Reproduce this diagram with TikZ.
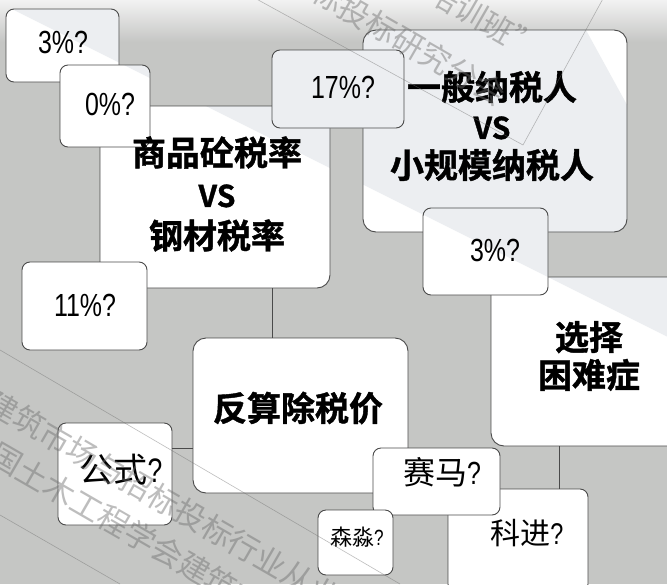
\documentclass[tikz,border=0pt]{standalone}
\usepackage{fontspec}
\usetikzlibrary{calc}
\newfontfamily\cjk{Noto Sans CJK SC}
\newfontfamily\cjkbold[FakeBold=1.2]{Noto Sans CJK SC Bold}
\newfontfamily\narrow[FakeStretch=0.78]{Liberation Sans}
\definecolor{bggray}{HTML}{C5C6C4}
\definecolor{bandclr}{HTML}{ECEEF1}
\definecolor{edgeclr}{HTML}{4A4A4A}
\definecolor{wmclr}{HTML}{6E6E6E}
\newcommand\vs{{\fontsize{30}{41}\selectfont VS}}
\begin{document}
\begin{tikzpicture}[x=1pt,y=-1pt,
    box/.style={draw=edgeclr,line width=.9pt,fill=white,rounded corners=8pt,inner sep=0pt,
        path picture={\fill[bandclr,sharp corners](bandA)--(bandB)--(bandC)--(bandD)--(bandE)--cycle;}},
    bigbox/.style={box,rounded corners=13pt},
    link/.style={edgeclr,line width=.9pt},
    bigtxt/.style={align=center,inner sep=0pt},
    tagtxt/.style={font=\narrow\fontsize{32}{36}\selectfont,inner sep=0pt},
    cjktxt/.style={inner sep=0pt},
    wm/.style={wmclr,font=\cjk\fontsize{31}{31}\selectfont,rotate=-30,anchor=west,inner sep=0pt}]
\useasboundingbox (0,0) rectangle (667,584);
\clip (0,0) rectangle (667,584);
% background
\fill[bggray] (0,0) rectangle (667,584);
\shade[top color=black!5,bottom color=bggray] (0,0) rectangle (667,42);
\coordinate (bandA) at (-10,-10);
\coordinate (bandB) at (-10,-2);
\coordinate (bandC) at (700,353);
\coordinate (bandD) at (700,238);
\coordinate (bandE) at (564,-10);

% big boxes
\node[bigbox,minimum width=230pt,minimum height=182pt] (shang) at (215,197) {};
\node[bigbox,minimum width=264pt,minimum height=202pt] (yiban) at (495,131) {};
\node[bigbox,minimum width=215pt,minimum height=155pt] (fan) at (300.5,415.5) {};
\node[bigbox,minimum width=209pt,minimum height=169pt] (xuan) at (595.5,361.5) {};
\node[box,minimum width=140pt,minimum height=103pt] (kejin) at (518,540.5) {};

% small boxes
\node[box,minimum width=113pt,minimum height=73pt] (pctA) at (62.5,45.5) {};
\node[box,minimum width=90pt,minimum height=82pt] (pctB) at (105,106) {};
\node[box,minimum width=132pt,minimum height=78pt] (pctC) at (338,89) {};
\node[box,minimum width=125pt,minimum height=87pt] (pctD) at (485.5,251.5) {};
\node[box,minimum width=125pt,minimum height=88pt] (pctE) at (84.5,306) {};
\node[box,minimum width=114pt,minimum height=102pt] (gongshi) at (115,474) {};
\node[box,minimum width=127pt,minimum height=67pt] (saima) at (436.5,481.5) {};
\node[box,minimum width=75pt,minimum height=65pt] (senmiao) at (355.5,542.5) {};

% links
\draw[link] ($(shang.south)!.5!(shang.south east)$) coordinate (s1) -- (s1 |- fan.north);
\draw[link] ([yshift=26pt]gongshi.east) coordinate (g1) -- (g1 -| fan.west);
\draw[link] ([xshift=-29pt]kejin.north east) coordinate (k1) -- (k1 |- xuan.south);

% texts
\node[bigtxt,font=\cjkbold\fontsize{34}{41.5}\selectfont] (shangtxt) at (217,194) {商品砼税率\\\vs\\钢材税率};
\node[bigtxt,font=\cjkbold\fontsize{34}{39}\selectfont] (yibantxt) at (492,126) {一般纳税人\\\vs\\小规模纳税人};
\node[bigtxt,font=\cjkbold\fontsize{34}{38}\selectfont] (fantxt) at (298,408) {反算除税价};
\node[bigtxt,font=\cjkbold\fontsize{34}{38}\selectfont] (xuantxt) at (589,356) {选择\\困难症};
\node[tagtxt] (pctAtxt) at (63,42) {3\%?};
\node[tagtxt] (pctBtxt) at (110,104) {0\%?};
\node[tagtxt] (pctCtxt) at (343,87) {17\%?};
\node[tagtxt] (pctDtxt) at (495,250) {3\%?};
\node[tagtxt] (pctEtxt) at (85,305) {11\%?};
\node[cjktxt,font=\cjk\fontsize{34}{36}\selectfont] (gongshitxt) at (121,470) {公式{\narrow ?}};
\node[cjktxt,font=\cjk\fontsize{32}{36}\selectfont] (saimatxt) at (442,472) {赛马{\narrow ?}};
\node[cjktxt,font=\cjk\fontsize{30}{36}\selectfont] (kejintxt) at (527,533) {科进{\narrow ?}};
\node[cjktxt,font=\cjk\fontsize{22}{26}\selectfont] (senmiaotxt) at (357,537) {森淼{\narrow ?}};

% watermark
\begin{scope}[opacity=.45]
\node[wm] (wmA) at (-11,399) {建筑市场与招标投标行业从业人员};
\node[wm] (wmB) at (-34,436) {中国土木工程学会建筑市场与招标投标研究分会};
\node[wm] (wmC) at (288,-27) {招标投标研究分会};
\node[wm] (wmD) at (431,-11) {培训班”};
\draw[wmclr,line width=.6pt] (0,350) -- (400,584);
\draw[wmclr,line width=.6pt] (0,515) -- (120,584);
\draw[wmclr,line width=.6pt] (240,-10) -- (523,145) -- (605,-5);
\end{scope}
\end{tikzpicture}
\end{document}
